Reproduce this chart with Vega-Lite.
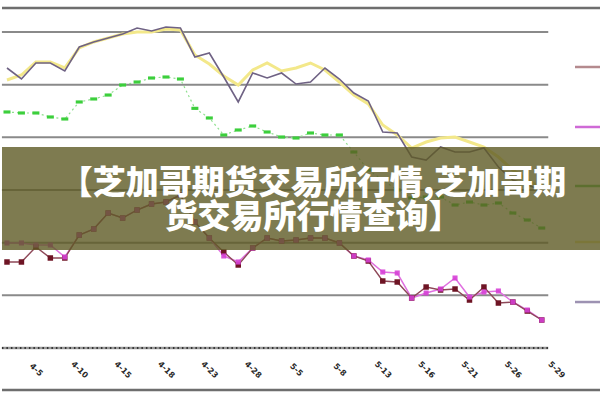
{
  "$schema": "https://vega.github.io/schema/vega-lite/v6.json",
  "width": 600,
  "height": 400,
  "autosize": {"type": "fit", "contains": "padding"},
  "padding": 0,
  "background": "white",
  "config": {"view": {"stroke": null}},
  "datasets": {
    "series": [
      {"i":0,"s":"系列5","v":531.6},{"i":1,"s":"系列5","v":510.7},{"i":2,"s":"系列5","v":541.1},{"i":3,"s":"系列5","v":541.1},{"i":4,"s":"系列5","v":525.9},{"i":5,"s":"系列5","v":571.5},{"i":6,"s":"系列5","v":581.0},{"i":7,"s":"系列5","v":588.6},{"i":8,"s":"系列5","v":596.2},{"i":9,"s":"系列5","v":607.6},{"i":10,"s":"系列5","v":601.9},{"i":11,"s":"系列5","v":609.5},{"i":12,"s":"系列5","v":607.6},{"i":13,"s":"系列5","v":552.5},{"i":14,"s":"系列5","v":560.1},{"i":15,"s":"系列5","v":514.5},{"i":16,"s":"系列5","v":467.1},{"i":17,"s":"系列5","v":522.1},{"i":18,"s":"系列5","v":512.6},{"i":19,"s":"系列5","v":522.1},{"i":20,"s":"系列5","v":501.2},{"i":21,"s":"系列5","v":505.0},{"i":22,"s":"系列5","v":531.6},{"i":23,"s":"系列5","v":510.7},{"i":24,"s":"系列5","v":484.1},{"i":25,"s":"系列5","v":469.0},{"i":26,"s":"系列5","v":410.1},{"i":27,"s":"系列5","v":408.2},{"i":28,"s":"系列5","v":362.6},{"i":29,"s":"系列5","v":356.9},{"i":30,"s":"系列5","v":381.6},{"i":31,"s":"系列5","v":372.1},{"i":32,"s":"系列5","v":372.1},{"i":33,"s":"系列5","v":379.7},{"i":34,"s":"系列5","v":343.6},{"i":35,"s":"系列5","v":319.0},{"i":36,"s":"系列5","v":309.5},{"i":37,"s":"系列5","v":300.0},
      {"i":0,"s":"系列4","v":508.8},{"i":1,"s":"系列4","v":518.3},{"i":2,"s":"系列4","v":543.0},{"i":3,"s":"系列4","v":543.0},{"i":4,"s":"系列4","v":531.6},{"i":5,"s":"系列4","v":569.6},{"i":6,"s":"系列4","v":581.0},{"i":7,"s":"系列4","v":588.6},{"i":8,"s":"系列4","v":596.2},{"i":9,"s":"系列4","v":600.0},{"i":10,"s":"系列4","v":600.0},{"i":11,"s":"系列4","v":605.7},{"i":12,"s":"系列4","v":603.8},{"i":13,"s":"系列4","v":556.3},{"i":14,"s":"系列4","v":539.2},{"i":15,"s":"系列4","v":516.4},{"i":16,"s":"系列4","v":499.3},{"i":17,"s":"系列4","v":527.8},{"i":18,"s":"系列4","v":541.1},{"i":19,"s":"系列4","v":525.9},{"i":20,"s":"系列4","v":531.6},{"i":21,"s":"系列4","v":541.1},{"i":22,"s":"系列4","v":527.8},{"i":23,"s":"系列4","v":505.0},{"i":24,"s":"系列4","v":480.3},{"i":25,"s":"系列4","v":463.3},{"i":26,"s":"系列4","v":423.4},{"i":27,"s":"系列4","v":404.4},{"i":28,"s":"系列4","v":379.7},{"i":29,"s":"系列4","v":391.1},{"i":30,"s":"系列4","v":398.7},{"i":31,"s":"系列4","v":400.6},{"i":32,"s":"系列4","v":391.1},{"i":33,"s":"系列4","v":381.6},{"i":34,"s":"系列4","v":362.6},{"i":35,"s":"系列4","v":338.0},{"i":36,"s":"系列4","v":319.0},{"i":37,"s":"系列4","v":303.8},
      {"i":0,"s":"系列3","v":448.1},{"i":1,"s":"系列3","v":446.2},{"i":2,"s":"系列3","v":446.2},{"i":3,"s":"系列3","v":438.6},{"i":4,"s":"系列3","v":434.8},{"i":5,"s":"系列3","v":467.1},{"i":6,"s":"系列3","v":472.8},{"i":7,"s":"系列3","v":480.3},{"i":8,"s":"系列3","v":499.3},{"i":9,"s":"系列3","v":505.0},{"i":10,"s":"系列3","v":512.6},{"i":11,"s":"系列3","v":514.5},{"i":12,"s":"系列3","v":510.7},{"i":13,"s":"系列3","v":455.0},{"i":14,"s":"系列3","v":436.7},{"i":15,"s":"系列3","v":404.4},{"i":16,"s":"系列3","v":413.9},{"i":17,"s":"系列3","v":421.5},{"i":18,"s":"系列3","v":410.1},{"i":19,"s":"系列3","v":400.6},{"i":20,"s":"系列3","v":398.7},{"i":21,"s":"系列3","v":408.2},{"i":22,"s":"系列3","v":404.4},{"i":23,"s":"系列3","v":404.4},{"i":24,"s":"系列3","v":372.1},{"i":25,"s":"系列3","v":338.0},{"i":26,"s":"系列3","v":319.0},{"i":27,"s":"系列3","v":300.0},{"i":28,"s":"系列3","v":284.8},{"i":29,"s":"系列3","v":286.7},{"i":30,"s":"系列3","v":286.7},{"i":31,"s":"系列3","v":271.5},{"i":32,"s":"系列3","v":277.2},{"i":33,"s":"系列3","v":271.5},{"i":34,"s":"系列3","v":275.3},{"i":35,"s":"系列3","v":256.3},{"i":36,"s":"系列3","v":243.0},{"i":37,"s":"系列3","v":227.8},
      {"i":0,"s":"系列2","v":199.4},{"i":1,"s":"系列2","v":199.4},{"i":2,"s":"系列2","v":195.6},{"i":3,"s":"系列2","v":195.6},{"i":4,"s":"系列2","v":172.8},{"i":5,"s":"系列2","v":214.5},{"i":6,"s":"系列2","v":225.9},{"i":7,"s":"系列2","v":256.3},{"i":8,"s":"系列2","v":246.8},{"i":9,"s":"系列2","v":262.0},{"i":10,"s":"系列2","v":273.4},{"i":11,"s":"系列2","v":277.2},{"i":12,"s":"系列2","v":290.5},{"i":13,"s":"系列2","v":239.2},{"i":14,"s":"系列2","v":208.8},{"i":15,"s":"系列2","v":174.7},{"i":16,"s":"系列2","v":163.3},{"i":17,"s":"系列2","v":189.9},{"i":18,"s":"系列2","v":208.8},{"i":19,"s":"系列2","v":203.2},{"i":20,"s":"系列2","v":205.0},{"i":21,"s":"系列2","v":208.8},{"i":22,"s":"系列2","v":208.8},{"i":23,"s":"系列2","v":199.4},{"i":24,"s":"系列2","v":174.7},{"i":25,"s":"系列2","v":167.1},{"i":26,"s":"系列2","v":144.3},{"i":27,"s":"系列2","v":142.4},{"i":28,"s":"系列2","v":94.9},{"i":29,"s":"系列2","v":104.4},{"i":30,"s":"系列2","v":112.0},{"i":31,"s":"系列2","v":132.9},{"i":32,"s":"系列2","v":96.8},{"i":33,"s":"系列2","v":106.3},{"i":34,"s":"系列2","v":108.2},{"i":35,"s":"系列2","v":87.3},{"i":36,"s":"系列2","v":72.1},{"i":37,"s":"系列2","v":53.2},
      {"i":0,"s":"系列1","v":163.3},{"i":1,"s":"系列1","v":163.3},{"i":2,"s":"系列1","v":191.8},{"i":3,"s":"系列1","v":170.9},{"i":4,"s":"系列1","v":170.9},{"i":5,"s":"系列1","v":214.5},{"i":6,"s":"系列1","v":225.9},{"i":7,"s":"系列1","v":256.3},{"i":8,"s":"系列1","v":246.8},{"i":9,"s":"系列1","v":262.0},{"i":10,"s":"系列1","v":273.4},{"i":11,"s":"系列1","v":277.2},{"i":12,"s":"系列1","v":290.5},{"i":13,"s":"系列1","v":239.2},{"i":14,"s":"系列1","v":208.8},{"i":15,"s":"系列1","v":182.3},{"i":16,"s":"系列1","v":157.6},{"i":17,"s":"系列1","v":189.9},{"i":18,"s":"系列1","v":208.8},{"i":19,"s":"系列1","v":203.2},{"i":20,"s":"系列1","v":205.0},{"i":21,"s":"系列1","v":208.8},{"i":22,"s":"系列1","v":208.8},{"i":23,"s":"系列1","v":199.4},{"i":24,"s":"系列1","v":174.7},{"i":25,"s":"系列1","v":165.2},{"i":26,"s":"系列1","v":127.2},{"i":27,"s":"系列1","v":125.3},{"i":28,"s":"系列1","v":94.9},{"i":29,"s":"系列1","v":115.8},{"i":30,"s":"系列1","v":110.1},{"i":31,"s":"系列1","v":112.0},{"i":32,"s":"系列1","v":91.1},{"i":33,"s":"系列1","v":115.8},{"i":34,"s":"系列1","v":85.4},{"i":35,"s":"系列1","v":87.3},{"i":36,"s":"系列1","v":70.2},{"i":37,"s":"系列1","v":53.2}
    ],
    "grid": [
      {"v":100,"x1":-0.35,"x2":37.45},{"v":200,"x1":-0.35,"x2":37.45},{"v":300,"x1":-0.35,"x2":37.45},
      {"v":400,"x1":-0.35,"x2":37.45},{"v":500,"x1":-0.35,"x2":37.45},{"v":600,"x1":-0.35,"x2":37.45}
    ],
    "frame": [
      {"v":645.5,"x1":-0.5,"x2":41.5},{"v":-79.7,"x1":-0.5,"x2":41.5}
    ],
    "axis": [{"v":0,"x1":-0.35,"x2":37.45}],
    "stubs": [
      {"s":"系列1","x1":39.3,"x2":41.2,"v":533.5},
      {"s":"系列2","x1":39.3,"x2":41.2,"v":419.6},
      {"s":"系列3","x1":39.3,"x2":41.2,"v":307.6},
      {"s":"系列4","x1":39.3,"x2":41.2,"v":201.3},
      {"s":"系列5","x1":39.3,"x2":41.2,"v":87.3}
    ],
    "labels": [
      {"i":2,"t":"4-5"},{"i":5,"t":"4-10"},{"i":8,"t":"4-15"},{"i":11,"t":"4-18"},{"i":14,"t":"4-23"},
      {"i":17,"t":"4-28"},{"i":20,"t":"5-5"},{"i":23,"t":"5-8"},{"i":26,"t":"5-13"},{"i":29,"t":"5-16"},
      {"i":32,"t":"5-21"},{"i":35,"t":"5-26"},{"i":38,"t":"5-29"}
    ],
    "banner": [{"x1":-1,"x2":42,"v1":186.1,"v2":381.6}],
    "bannerText": [
      {"x":21.17,"v":311.4,"t":"【芝加哥期货交易所行情,芝加哥期\n货交易所行情查询】"}
    ]
  },
  "layer": [
    {
      "data": {"name": "grid"},
      "mark": {"type": "rule", "color": "#8a8a8a", "strokeWidth": 2},
      "encoding": {
        "x": {"field": "x1", "type": "quantitative", "scale": {"domain": [-0.345, 41.03], "nice": false, "zero": false}, "axis": null},
        "x2": {"field": "x2"},
        "y": {"field": "v", "type": "quantitative", "scale": {"domain": [-98.7, 660.7], "nice": false, "zero": false}, "axis": null}
      }
    },
    {
      "data": {"name": "frame"},
      "mark": {"type": "rule", "color": "#6e6e6e", "strokeWidth": 2.5, "clip": true},
      "encoding": {
        "x": {"field": "x1", "type": "quantitative"},
        "x2": {"field": "x2"},
        "y": {"field": "v", "type": "quantitative"}
      }
    },
    {
      "data": {"name": "axis"},
      "mark": {"type": "rule", "color": "#9a9a9a", "strokeWidth": 2.5},
      "encoding": {
        "x": {"field": "x1", "type": "quantitative"},
        "x2": {"field": "x2"},
        "y": {"field": "v", "type": "quantitative"}
      }
    },
    {
      "data": {"name": "axis"},
      "mark": {"type": "rule", "color": "#333333", "strokeWidth": 2, "strokeDash": [1.5, 3]},
      "encoding": {
        "x": {"field": "x1", "type": "quantitative"},
        "x2": {"field": "x2"},
        "y": {"field": "v", "type": "quantitative"}
      }
    },
    {
      "data": {"name": "series"},
      "transform": [{"filter": "datum.s === '系列4'"}],
      "mark": {"type": "line", "color": "#f3e88a", "strokeWidth": 3},
      "encoding": {
        "x": {"field": "i", "type": "quantitative"},
        "y": {"field": "v", "type": "quantitative"}
      }
    },
    {
      "data": {"name": "series"},
      "transform": [{"filter": "datum.s === '系列5'"}],
      "mark": {"type": "line", "color": "#6f6284", "strokeWidth": 1.6},
      "encoding": {
        "x": {"field": "i", "type": "quantitative"},
        "y": {"field": "v", "type": "quantitative"}
      }
    },
    {
      "data": {"name": "series"},
      "transform": [{"filter": "datum.s === '系列3'"}],
      "mark": {"type": "line", "color": "#8fe08f", "strokeWidth": 1.2, "strokeDash": [2, 3]},
      "encoding": {
        "x": {"field": "i", "type": "quantitative"},
        "y": {"field": "v", "type": "quantitative"}
      }
    },
    {
      "data": {"name": "series"},
      "transform": [{"filter": "datum.s === '系列3'"}],
      "mark": {"type": "point", "shape": "M-1,-0.45H1V0.45H-1Z", "filled": true, "color": "#3ccf3c", "size": 49, "opacity": 1},
      "encoding": {
        "x": {"field": "i", "type": "quantitative"},
        "y": {"field": "v", "type": "quantitative"}
      }
    },
    {
      "data": {"name": "series"},
      "transform": [{"filter": "datum.s === '系列2'"}],
      "mark": {"type": "line", "color": "#e070e0", "strokeWidth": 1.5},
      "encoding": {
        "x": {"field": "i", "type": "quantitative"},
        "y": {"field": "v", "type": "quantitative"}
      }
    },
    {
      "data": {"name": "series"},
      "transform": [{"filter": "datum.s === '系列1'"}],
      "mark": {"type": "line", "color": "#8e4858", "strokeWidth": 1.4},
      "encoding": {
        "x": {"field": "i", "type": "quantitative"},
        "y": {"field": "v", "type": "quantitative"}
      }
    },
    {
      "data": {"name": "series"},
      "transform": [{"filter": "datum.s === '系列1'"}],
      "mark": {"type": "point", "shape": "square", "filled": true, "color": "#6e1424", "size": 30, "opacity": 1},
      "encoding": {
        "x": {"field": "i", "type": "quantitative"},
        "y": {"field": "v", "type": "quantitative"}
      }
    },
    {
      "data": {"name": "series"},
      "transform": [{"filter": "datum.s === '系列2'"}],
      "mark": {"type": "point", "shape": "square", "filled": true, "color": "#d640d6", "size": 26, "opacity": 0.9},
      "encoding": {
        "x": {"field": "i", "type": "quantitative"},
        "y": {"field": "v", "type": "quantitative"}
      }
    },
    {
      "data": {"name": "stubs"},
      "mark": {"type": "rule", "strokeWidth": 2.5, "clip": true},
      "encoding": {
        "x": {"field": "x1", "type": "quantitative"},
        "x2": {"field": "x2"},
        "y": {"field": "v", "type": "quantitative"},
        "color": {
          "field": "s", "type": "nominal", "legend": null,
          "scale": {"domain": ["系列1", "系列2", "系列3", "系列4", "系列5"], "range": ["#b48a8e", "#cf6ad6", "#59c459", "#ede38a", "#9d92b2"]}
        }
      }
    },
    {
      "data": {"name": "labels"},
      "mark": {"type": "text", "angle": 45, "align": "center", "baseline": "middle", "fontSize": 8, "fontWeight": "bold", "font": "DejaVu Sans", "color": "#2a2a2a"},
      "encoding": {
        "x": {"field": "i", "type": "quantitative"},
        "y": {"datum": -42, "type": "quantitative"},
        "text": {"field": "t"}
      }
    },
    {
      "data": {"name": "banner"},
      "mark": {"type": "rect", "color": "#5e5a24", "opacity": 0.8, "clip": true},
      "encoding": {
        "x": {"field": "x1", "type": "quantitative"},
        "x2": {"field": "x2"},
        "y": {"field": "v1", "type": "quantitative"},
        "y2": {"field": "v2"}
      }
    },
    {
      "data": {"name": "bannerText"},
      "mark": {"type": "text", "align": "center", "baseline": "middle", "font": "Noto Sans CJK SC", "fontWeight": 900, "fontSize": 33, "letterSpacing": 1.8, "lineBreak": "\n", "lineHeight": 34, "color": "white"},
      "encoding": {
        "x": {"field": "x", "type": "quantitative"},
        "y": {"field": "v", "type": "quantitative"},
        "text": {"field": "t"}
      }
    }
  ]
}
